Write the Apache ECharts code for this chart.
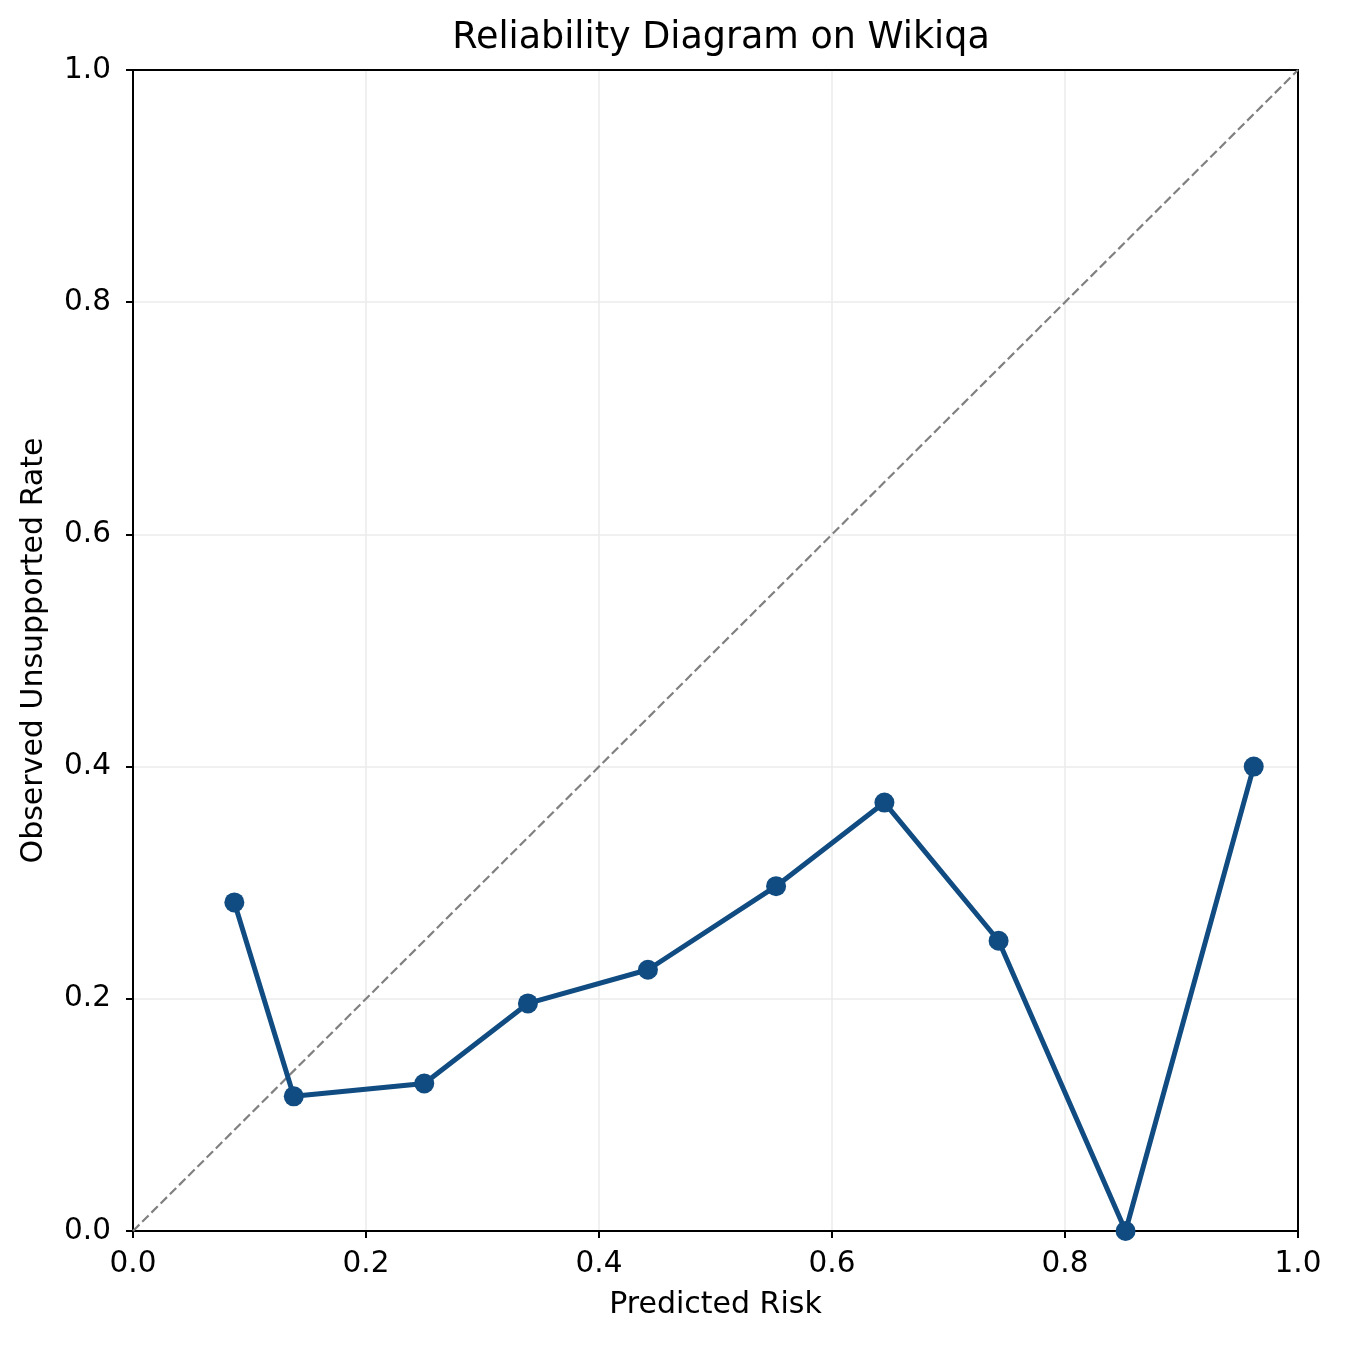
<!DOCTYPE html>
<html>
<head>
<meta charset="utf-8">
<script src="https://cdn.jsdelivr.net/npm/echarts@6/dist/echarts.min.js"></script>
<style>
  html, body { margin: 0; padding: 0; background: #fff; }
  #chart { width: 1345px; height: 1345px; }
</style>
</head>
<body>
<div id="chart"></div>
<script>
// binned calibration values
const predictedRisk = [0.087, 0.138, 0.250, 0.339, 0.442, 0.552, 0.645, 0.743, 0.852, 0.962];
const observedRate = [0.283, 0.116, 0.127, 0.196, 0.225, 0.297, 0.369, 0.250, 0.000, 0.400];
const diagonal = [[0, 0], [1, 1]];

const chart = echarts.init(document.getElementById('chart'));
const font = 'DejaVu Sans';

const axisCommon = {
  min: 0,
  max: 1,
  interval: 0.2,
  axisLine: { show: true, onZero: false, lineStyle: { color: '#000', width: 2 } },
  axisTick: { show: true, inside: false, length: 7, lineStyle: { color: '#000', width: 2 } },
  axisLabel: {
    color: '#000', fontFamily: font, fontSize: 29.5,
    formatter: v => v.toFixed(1)
  },
  splitLine: {
    show: true, showMinLine: false, showMaxLine: false,
    lineStyle: { color: '#ebebeb', width: 1.5 }
  },
  nameTextStyle: { color: '#000', fontFamily: font, fontSize: 30 }
};

// plain frame on the top and right sides
const frameAxis = {
  min: 0, max: 1, interval: 0.2,
  axisLine: { show: true, onZero: false, lineStyle: { color: '#000', width: 2 } },
  axisTick: { show: false }, axisLabel: { show: false }, splitLine: { show: false }
};

chart.setOption({
  animation: false,
  title: {
    text: 'Reliability Diagram on Wikiqa',
    left: 716, top: 15, textAlign: 'center',
    textStyle: { fontFamily: font, fontSize: 36.5, fontWeight: 'normal', color: '#000' }
  },
  grid: { left: 133, right: 47, top: 70, bottom: 114 },
  xAxis: [
    Object.assign({}, axisCommon, {
      type: 'value',
      position: 'bottom',
      name: 'Predicted Risk',
      nameLocation: 'middle',
      nameGap: 59,
      axisLabel: Object.assign({}, axisCommon.axisLabel, { margin: 18 })
    }),
    Object.assign({ type: 'value', position: 'top' }, frameAxis)
  ],
  yAxis: [
    Object.assign({}, axisCommon, {
      type: 'value',
      position: 'left',
      name: 'Observed Unsupported Rate',
      nameLocation: 'middle',
      nameGap: 84,
      axisLabel: Object.assign({}, axisCommon.axisLabel, { margin: 22 })
    }),
    Object.assign({ type: 'value', position: 'right' }, frameAxis)
  ],
  series: [
    {
      type: 'line',
      data: diagonal,
      symbol: 'none',
      silent: true,
      lineStyle: { color: '#808080', width: 2.2, type: [9, 4] },
      z: 2
    },
    {
      type: 'line',
      data: predictedRisk.map((x, i) => [x, observedRate[i]]),
      symbol: 'circle',
      symbolSize: 20,
      clip: false,
      lineStyle: { color: '#104c81', width: 5 },
      itemStyle: { color: '#104c81' },
      z: 3
    }
  ]
});
</script>
</body>
</html>
